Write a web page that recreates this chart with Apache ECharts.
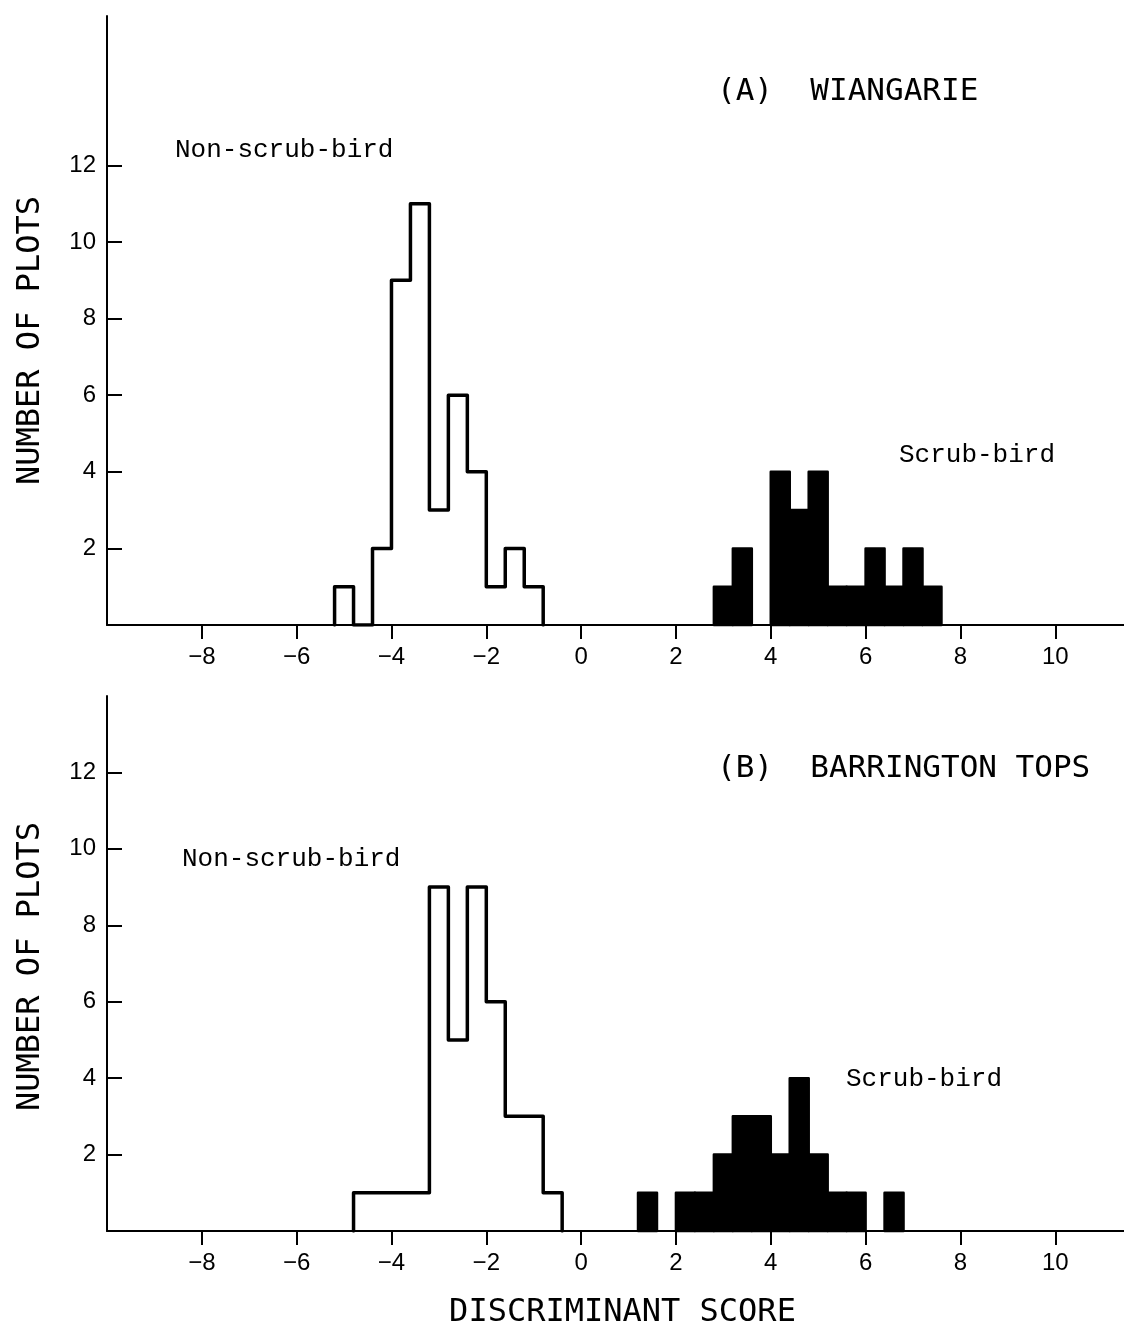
<!DOCTYPE html>
<html><head><meta charset="utf-8">
<script src="https://cdn.jsdelivr.net/npm/echarts@6/dist/echarts.min.js"></script>
<style>html,body{margin:0;padding:0;background:#fff}#c{width:1124px;height:1331px}</style>
</head><body><div id="c"></div><script>
// ---- data ----
const binWidth = 0.4;
const aNonStart = -5.2;
const aNonCounts = [1, 0, 2, 9, 11, 3, 6, 4, 1, 2, 1];
const aScrubStart = 2.8;
const aScrubCounts = [1, 2, 0, 4, 3, 4, 1, 1, 2, 1, 2, 1];
const bNonStart = -4.8;
const bNonCounts = [1, 1, 1, 1, 9, 5, 9, 6, 3, 3, 1];
const bScrubStart = 1.2;
const bScrubCounts = [1, 0, 1, 1, 2, 3, 3, 2, 4, 2, 1, 1, 0, 1];
const xTicks = [-8, -6, -4, -2, 0, 2, 4, 6, 8, 10];
const yTicks = [2, 4, 6, 8, 10, 12];
const panelTitles = ['(A)  WIANGARIE', '(B)  BARRINGTON TOPS'];
const groupLabels = ['Non-scrub-bird', 'Scrub-bird'];
const yName = 'NUMBER OF PLOTS';
const xName = 'DISCRIMINANT SCORE';

// ---- helpers ----
function outline(start, counts) {
  const pts = [[start, 0]];
  counts.forEach((c, i) => {
    const a = +(start + i * binWidth).toFixed(3);
    const b = +(start + (i + 1) * binWidth).toFixed(3);
    pts.push([a, c], [b, c]);
  });
  pts.push([+(start + counts.length * binWidth).toFixed(3), 0]);
  return pts;
}
function barsData(start, counts) {
  const out = [];
  counts.forEach((c, i) => {
    if (c > 0) out.push([+(start + i * binWidth).toFixed(3), +(start + (i + 1) * binWidth).toFixed(3), c]);
  });
  return out;
}
function renderBar(params, api) {
  const p0 = api.coord([api.value(0), api.value(2)]);
  const p1 = api.coord([api.value(1), 0]);
  return {
    type: 'rect',
    shape: { x: p0[0], y: p0[1], width: p1[0] - p0[0], height: p1[1] - p0[1] },
    style: { fill: '#000', stroke: '#000', lineWidth: 2.5, lineJoin: 'round' }
  };
}
function fmtTick(v) { return String(v).replace('-', '\u2212'); }

const monoFont = 'DejaVu Sans Mono';

function xAxisDef(idx, withName) {
  const d = {
    type: 'value', gridIndex: idx, min: -10, max: 11.45,
    axisLine: { show: true, onZero: false, lineStyle: { color: '#000', width: 2 } },
    axisTick: { show: true, inside: false, length: 14, customValues: xTicks, lineStyle: { color: '#000', width: 2 } },
    axisLabel: { customValues: xTicks, margin: 20, formatter: fmtTick, fontFamily: 'Liberation Sans', fontSize: 24, color: '#000' },
    splitLine: { show: false }
  };
  if (withName) {
    d.name = xName; d.nameLocation = 'middle'; d.nameGap = 66;
    d.nameTextStyle = { fontFamily: monoFont, fontSize: 32, color: '#000', padding: [0, 0, 0, 14] };
  }
  return d;
}
function yAxisDef(idx, max, pad) {
  return {
    type: 'value', gridIndex: idx, min: 0, max: max,
    name: yName, nameLocation: 'middle', nameGap: 60,
    nameTextStyle: { fontFamily: monoFont, fontSize: 32, color: '#000', padding: pad },
    axisLine: { show: true, onZero: false, lineStyle: { color: '#000', width: 2 } },
    axisTick: { show: true, inside: true, length: 15, customValues: yTicks, lineStyle: { color: '#000', width: 2 } },
    axisLabel: { customValues: yTicks, margin: 11, fontFamily: 'Liberation Sans', fontSize: 24, color: '#000' },
    splitLine: { show: false }
  };
}
function outlineSeries(idx, start, counts) {
  return {
    type: 'line', xAxisIndex: idx, yAxisIndex: idx, data: outline(start, counts),
    symbol: 'none', silent: true, animation: false,
    lineStyle: { color: '#000', width: 3.5, join: 'round', cap: 'round' }
  };
}
function barSeries(idx, start, counts) {
  return {
    type: 'custom', xAxisIndex: idx, yAxisIndex: idx, data: barsData(start, counts),
    renderItem: renderBar, encode: { x: [0, 1], y: 2 }, silent: true, animation: false
  };
}
function txt(x, y, text, font, size, align) {
  return { type: 'text', x: x, y: y, style: { text: text, fontFamily: font, fontSize: size, fill: '#000', align: align || 'left', verticalAlign: 'middle' } };
}

const chart = echarts.init(document.getElementById('c'), null, { renderer: 'canvas' });
chart.setOption({
  backgroundColor: '#fff',
  animation: false,
  grid: [
    { left: 107, top: 16, width: 1017, height: 609 },
    { left: 107, top: 696, width: 1017, height: 535 }
  ],
  xAxis: [xAxisDef(0, false), xAxisDef(1, true)],
  yAxis: [yAxisDef(0, 15.9, [0, 40, 0, 0]), yAxisDef(1, 14, [0, 6, 0, 0])],
  series: [
    outlineSeries(0, aNonStart, aNonCounts),
    barSeries(0, aScrubStart, aScrubCounts),
    outlineSeries(1, bNonStart, bNonCounts),
    barSeries(1, bScrubStart, bScrubCounts)
  ],
  graphic: [
    txt(717, 92, panelTitles[0], monoFont, 31),
    txt(717, 769, panelTitles[1], monoFont, 31),
    txt(175, 150, groupLabels[0], 'Liberation Mono', 26),
    txt(182, 859, groupLabels[0], 'Liberation Mono', 26),
    txt(899, 455, groupLabels[1], 'Liberation Mono', 26),
    txt(846, 1079, groupLabels[1], 'Liberation Mono', 26)
  ]
});
</script></body></html>
